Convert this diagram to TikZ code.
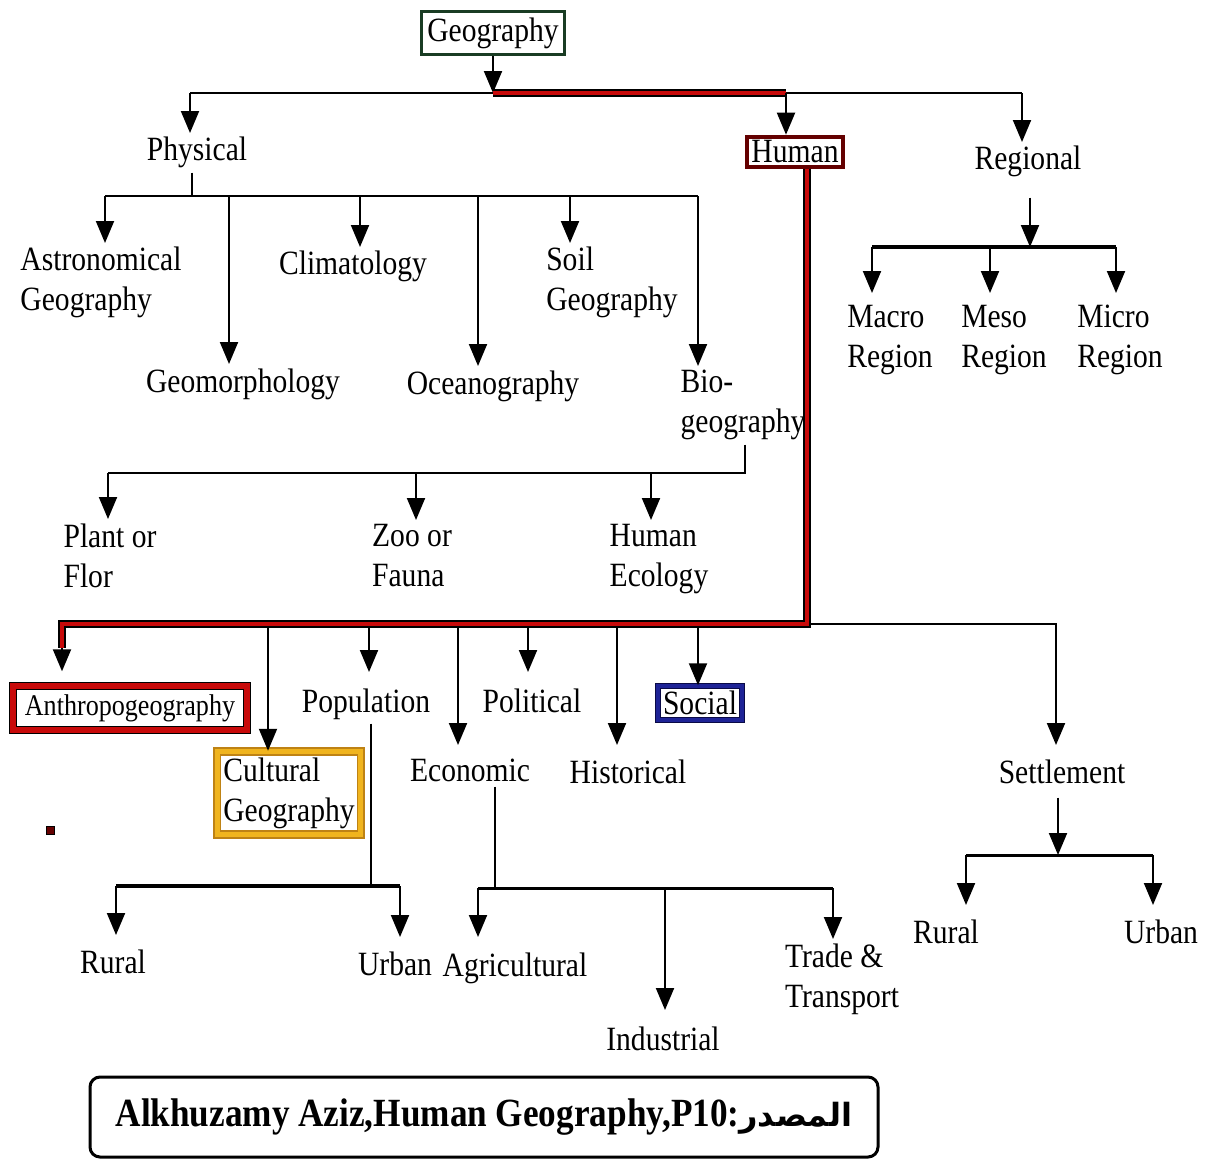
\documentclass[tikz,border=0pt]{standalone}
\usepackage{fontspec}
\setmainfont[FakeStretch=0.87]{Liberation Serif}
\newfontfamily\srcfont[FakeStretch=0.88]{Liberation Serif}
\newfontfamily\arabicfont[Script=Arabic]{DejaVu Sans}
\TeXXeTstate=1
\usetikzlibrary{arrows.meta,positioning}
\definecolor{pathred}{RGB}{200,10,10}
\definecolor{humanred}{RGB}{100,0,0}
\definecolor{geogreen}{RGB}{25,60,35}
\definecolor{cultgold}{RGB}{240,180,30}
\definecolor{cultedge}{RGB}{190,130,20}
\definecolor{socialblue}{RGB}{30,35,150}
\definecolor{socialedge}{RGB}{10,10,70}

\begin{document}
\begin{tikzpicture}[
    x=0.5pt, y=-0.5pt,
    leaf/.style={inner sep=2pt, align=left, font=\fontsize{17}{20}\selectfont},
    boxed/.style={leaf, rectangle, inner sep=3pt},
    conn/.style={draw=black, line width=1pt},
    medline/.style={draw=black, line width=1.5pt},
    thickline/.style={draw=black, line width=2pt},
    arrow/.style={line width=1pt, -{Triangle[width=9pt,length=11pt]}},
    redpath/.style={draw=black, line width=0.7pt, double=pathred, double distance=2.4pt}
]
\useasboundingbox (0,0) rectangle (1208,1162);

% Top level
\node[boxed, draw=geogreen, line width=1.5pt, minimum width=70pt, minimum height=21pt] (geo) at (493,33) {Geography};
\node[leaf, anchor=north] (phys) at (197,133) {Physical};
\node[boxed, draw=humanred, line width=2pt, inner sep=2pt] (human) at (795,152) {Human};
\node[leaf, anchor=north] (regional) at (1028,142) {Regional};

% Physical branches
\node[leaf, anchor=north] (astro) at (101,243) {Astronomical\\Geography};
\node[leaf, anchor=north] (geomor) at (243,364) {Geomorphology};
\node[leaf, anchor=north] (clima) at (353,247) {Climatology};
\node[leaf, anchor=north] (ocean) at (493,366) {Oceanography};
\node[leaf, anchor=north] (soil) at (612,243) {Soil\\Geography};
\node[leaf, anchor=north] (bio) at (743,366) {Bio-\\geography};

% Regional branches
\node[leaf, anchor=north] (macro) at (890,301) {Macro\\Region};
\node[leaf, anchor=north] (meso) at (1004,301) {Meso\\Region};
\node[leaf, anchor=north] (micro) at (1120,301) {Micro\\Region};

% Biogeography branches
\node[leaf, anchor=north] (plant) at (110,519) {Plant or\\Flor};
\node[leaf, anchor=north] (zoo) at (412,520) {Zoo or\\Fauna};
\node[leaf, anchor=north] (hueco) at (659,520) {Human\\Ecology};

% Human branches
\node[boxed, draw=black, line width=0.7pt, double=pathred, double distance=3pt, inner sep=2.5pt, minimum width=117pt, minimum height=22pt, font=\fontsize{15}{20}\selectfont] (anthro) at (130,708) {Anthropogeography};
\node[boxed, draw=cultedge, line width=0.8pt, double=cultgold, double distance=2.5pt] (cultural) at (289,793) {Cultural\\Geography};
\node[leaf, anchor=north] (popul) at (366,684) {Population};
\node[leaf, anchor=north] (polit) at (532,684) {Political};
\node[boxed, draw=socialedge, line width=0.8pt, double=socialblue, double distance=1.8pt, inner sep=2.5pt] (social) at (700,703) {Social};
\node[leaf, anchor=north] (econ) at (470,755) {Economic};
\node[leaf, anchor=north] (hist) at (628,755) {Historical};
\node[leaf, anchor=north] (settle) at (1062,755) {Settlement};
\node[draw=black, fill=humanred, minimum size=4pt, inner sep=0pt] (dot) at (50,830) {};

% Population, Economic and Settlement branches
\node[leaf, anchor=north] (prural) at (113,945) {Rural};
\node[leaf, anchor=north] (purban) at (395,947) {Urban};
\node[leaf, anchor=north] (agri) at (515,948) {Agricultural};
\node[leaf, anchor=north] (indus) at (663,1022) {Industrial};
\node[leaf, anchor=north] (trade) at (842,939) {Trade \&\\Transport};
\node[leaf, anchor=north] (srural) at (946,915) {Rural};
\node[leaf, anchor=north] (surban) at (1161,915) {Urban};

% Source
\node[draw=black, line width=1.5pt, rounded corners=5pt, minimum width=394pt, minimum height=40pt] (src) at (484,1117)
    {\srcfont\bfseries\fontsize{20}{24}\selectfont Alkhuzamy Aziz,Human Geography,P10:{\arabicfont\bfseries\fontsize{16}{24}\selectfont\beginR المصدر\endR}};

% Bus points
\coordinate (topbus) at (493,93);
\coordinate (pbus) at (192,196);
\coordinate (rbus) at (1030,247);
\coordinate (bbus) at (745,473);
\coordinate (hbus) at (807,624);
\coordinate (pobus) at (371,886);
\coordinate (ebus) at (495,888);
\coordinate (sbus) at (1058,855);

% Arrows from Geography
\draw[arrow] (geo.south) -- (topbus);
\draw[conn] ([xshift=-3.5pt]phys.north |- topbus) -- ([xshift=-3pt]regional.north |- topbus);
\draw[arrow] ([xshift=-3.5pt]phys.north |- topbus) -- ([xshift=-3.5pt]phys.north);
\draw[arrow] ([xshift=-3pt]regional.north |- topbus) -- ([xshift=-3pt]regional.north);
\draw[redpath] (topbus) -- ([xshift=-4.5pt]human.north |- topbus);
\draw[arrow] ([xshift=-4.5pt]human.north |- topbus) -- ([xshift=-4.5pt]human.north);

% Arrows from Physical
\draw[conn] (phys.south -| pbus) -- (pbus);
\draw[conn] ([xshift=2pt]astro.north |- pbus) -- ([xshift=-22.5pt]bio.north |- pbus);
\draw[arrow] ([xshift=2pt]astro.north |- pbus) -- ([xshift=2pt]astro.north);
\draw[arrow] ([xshift=-7pt]geomor.north |- pbus) -- ([xshift=-7pt]geomor.north);
\draw[arrow] ([xshift=3.5pt]clima.north |- pbus) -- ([xshift=3.5pt]clima.north);
\draw[arrow] ([xshift=-7.5pt]ocean.north |- pbus) -- ([xshift=-7.5pt]ocean.north);
\draw[arrow] ([xshift=-21pt]soil.north |- pbus) -- ([xshift=-21pt]soil.north);
\draw[arrow] ([xshift=-22.5pt]bio.north |- pbus) -- ([xshift=-22.5pt]bio.north);

% Arrows from Regional
\draw[arrow] ([yshift=-8pt]regional.south -| rbus) -- (rbus);
\draw[thickline] ([xshift=-9pt]macro.north |- rbus) -- ([xshift=-2pt]micro.north |- rbus);
\draw[arrow, shorten >=4pt] ([xshift=-9pt]macro.north |- rbus) -- ([xshift=-9pt]macro.north);
\draw[arrow, shorten >=4pt] ([xshift=-7pt]meso.north |- rbus) -- ([xshift=-7pt]meso.north);
\draw[arrow, shorten >=4pt] ([xshift=-2pt]micro.north |- rbus) -- ([xshift=-2pt]micro.north);

% Arrows from Biogeography
\draw[conn] (bio.south -| bbus) -- (bbus) -- ([xshift=-1pt]plant.north |- bbus);
\draw[arrow] ([xshift=-1pt]plant.north |- bbus) -- ([xshift=-1pt]plant.north);
\draw[arrow] ([xshift=2pt]zoo.north |- bbus) -- ([xshift=2pt]zoo.north);
\draw[arrow] ([xshift=-4pt]hueco.north |- bbus) -- ([xshift=-4pt]hueco.north);

% Arrows from Human
\draw[arrow, shorten >=5pt] (hbus) -| ([xshift=-3pt]settle.north);
\draw[arrow, shorten >=7pt] ([xshift=-34pt]anthro.north |- hbus) -- ([xshift=-34pt]anthro.north);
\draw[arrow] ([xshift=-10.5pt]cultural.north |- hbus) -- ([xshift=-10.5pt]cultural.north);
\draw[arrow, shorten >=6pt] ([xshift=1.5pt]popul.north |- hbus) -- ([xshift=1.5pt]popul.north);
\draw[arrow, shorten >=5pt] ([xshift=-6pt]econ.north |- hbus) -- ([xshift=-6pt]econ.north);
\draw[arrow, shorten >=6pt] ([xshift=-2pt]polit.north |- hbus) -- ([xshift=-2pt]polit.north);
\draw[arrow, shorten >=5pt] ([xshift=-5.5pt]hist.north |- hbus) -- ([xshift=-5.5pt]hist.north);
\draw[arrow] ([xshift=-1pt]social.north |- hbus) -- ([xshift=-1pt]social.north);
\draw[redpath] ([xshift=6pt]human.south) |- ([xshift=-34pt]anthro.north |- hbus) -- ++(0,24);

% Arrows from Population
\draw[conn] (popul.south -| pobus) -- (pobus);
\draw[thickline] ([xshift=1.5pt]prural.north |- pobus) -- ([xshift=2.5pt]purban.north |- pobus);
\draw[arrow, shorten >=5pt] ([xshift=1.5pt]prural.north |- pobus) -- ([xshift=1.5pt]prural.north);
\draw[arrow, shorten >=5pt] ([xshift=2.5pt]purban.north |- pobus) -- ([xshift=2.5pt]purban.north);

% Arrows from Economic
\draw[conn] (econ.south -| ebus) -- (ebus);
\draw[medline] ([xshift=-18.5pt]agri.north |- ebus) -- ([xshift=-4.5pt]trade.north |- ebus);
\draw[arrow, shorten >=5.5pt] ([xshift=-18.5pt]agri.north |- ebus) -- ([xshift=-18.5pt]agri.north);
\draw[arrow, shorten >=6pt] ([xshift=1pt]indus.north |- ebus) -- ([xshift=1pt]indus.north);
\draw[arrow] ([xshift=-4.5pt]trade.north |- ebus) -- ([xshift=-4.5pt]trade.north);

% Arrows from Settlement
\draw[arrow] ([yshift=-5pt]settle.south -| sbus) -- (sbus);
\draw[medline] ([xshift=10pt]srural.north |- sbus) -- ([xshift=-4pt]surban.north |- sbus);
\draw[arrow, shorten >=5pt] ([xshift=10pt]srural.north |- sbus) -- ([xshift=10pt]srural.north);
\draw[arrow, shorten >=5pt] ([xshift=-4pt]surban.north |- sbus) -- ([xshift=-4pt]surban.north);
\end{tikzpicture}
\end{document}
